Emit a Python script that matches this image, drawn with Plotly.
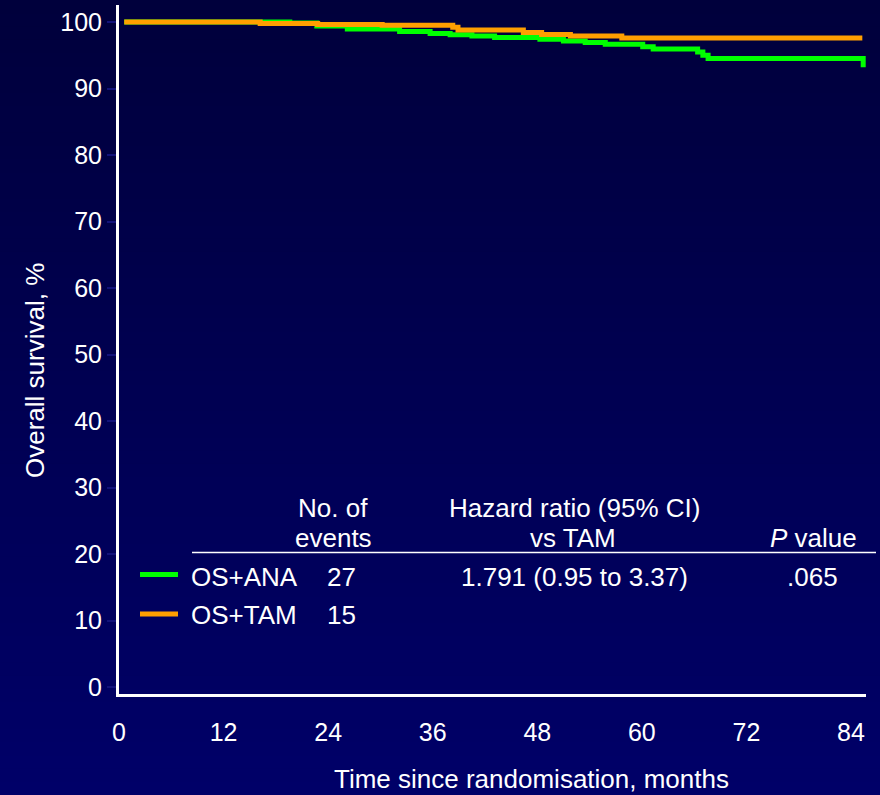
import plotly.graph_objects as go

# ---- data ----
ana_months = [0.6, 19.6, 22.7, 26.2, 32.2, 35.7, 38.0, 40.5, 43.1, 48.3, 51.0, 53.5, 55.8, 60.1, 61.3, 66.4, 67.0, 67.6, 85.4]
ana_surv   = [100.0, 99.85, 99.4, 98.95, 98.57, 98.27, 98.1, 97.9, 97.67, 97.4, 97.14, 96.9, 96.65, 96.27, 95.95, 95.5, 95.0, 94.5, 93.2]
tam_months = [0.6, 16.2, 22.8, 30.2, 38.3, 38.9, 46.4, 48.5, 51.8, 57.7, 85.3]
tam_surv   = [100.0, 99.77, 99.62, 99.5, 99.2, 98.8, 98.42, 98.12, 97.9, 97.6, 97.6]

x_ticks = [0, 12, 24, 36, 48, 60, 72, 84]
y_ticks = [0, 10, 20, 30, 40, 50, 60, 70, 80, 90, 100]

arm_names = ["OS+ANA", "OS+TAM"]
events = ["27", "15"]
hr_text = "1.791 (0.95 to 3.37)"
p_text = ".065"

GREEN = "#00ff00"
ORANGE = "#ff9f00"
FONT = "Arial, Liberation Sans, sans-serif"

W, H = 880, 795
L, R, T, B = 119, 866, 5, 694   # plot area in pixels

def px(x):
    return (x - L) / (R - L)

def py(y):
    return (B - y) / (B - T)

fig = go.Figure()
fig.add_trace(go.Scatter(x=ana_months, y=ana_surv, mode="lines", line=dict(color=GREEN, width=5, shape="hv"),
                         name=arm_names[0], showlegend=False, hoverinfo="skip"))
fig.add_trace(go.Scatter(x=tam_months, y=tam_surv, mode="lines", line=dict(color=ORANGE, width=5, shape="hv"),
                         name=arm_names[1], showlegend=False, hoverinfo="skip"))

shapes = []
# vertical gradient background
n = 60
top_c = (0, 0, 60)
bot_c = (0, 0, 104)
for i in range(n):
    y0 = H * i / n
    y1 = H * (i + 1) / n + 1
    f = i / (n - 1)
    c = tuple(int(round(top_c[k] + (bot_c[k] - top_c[k]) * f)) for k in range(3))
    shapes.append(dict(type="rect", xref="paper", yref="paper", x0=px(-2), x1=px(W + 2),
                       y0=py(y1), y1=py(y0 - (1 if i == 0 else 0)), fillcolor=f"rgb{c}", line=dict(width=0), layer="below"))

# table rule
shapes.append(dict(type="line", xref="paper", yref="paper", x0=px(192), x1=px(876), y0=py(552.5), y1=py(552.5),
                   line=dict(color="white", width=1.5)))
# legend swatches
shapes.append(dict(type="line", xref="paper", yref="paper", x0=px(140), x1=px(178), y0=py(574.5), y1=py(574.5),
                   line=dict(color=GREEN, width=5)))
shapes.append(dict(type="line", xref="paper", yref="paper", x0=px(140), x1=px(178), y0=py(614), y1=py(614),
                   line=dict(color=ORANGE, width=5)))

annots = []
def txt(s, x, y, xanchor="center", size=26):
    annots.append(dict(text=s, xref="paper", yref="paper", x=px(x), y=py(y), xanchor=xanchor, yanchor="middle",
                       showarrow=False, font=dict(color="white", size=size, family=FONT)))

txt("No. of", 333, 507.5)
txt("events", 333, 538)
txt("Hazard ratio (95% CI)", 574, 507.5)
txt("vs TAM", 573, 538)
txt("<i>P</i> value", 813, 538)
txt(arm_names[0], 189, 577, "left")
txt(events[0], 325, 577, "left")
txt(hr_text, 574, 577)
txt(p_text, 812, 577)
txt(arm_names[1], 189, 615, "left")
txt(events[1], 325, 615, "left")

# axis titles
txt("Time since randomisation, months", 531, 779)
annots.append(dict(text="Overall survival, %", xref="paper", yref="paper", x=px(35), y=py(371), textangle=-90,
                   xanchor="center", yanchor="middle", showarrow=False,
                   font=dict(color="white", size=26, family=FONT)))

y_lo = 100 - (B - 22) / 6.65
y_hi = 100 + (22 - T) / 6.65
x_hi = (R - L) / ((851 - 119) / 84)

fig.update_layout(
    width=W, height=H,
    margin=dict(l=L, r=W - R, t=T, b=H - B, pad=0),
    paper_bgcolor="rgb(0,0,80)", plot_bgcolor="rgba(0,0,0,0)",
    shapes=shapes, annotations=annots,
    font=dict(family=FONT, color="white", size=25),
    hovermode=False,
    xaxis=dict(range=[0, x_hi], tickvals=x_ticks, ticktext=[str(v) for v in x_ticks],
               showgrid=False, zeroline=False, showline=True, linecolor="white", linewidth=3,
               ticks="outside", ticklen=14, tickcolor="rgba(0,0,0,0)",
               tickfont=dict(size=25, color="white", family=FONT)),
    yaxis=dict(range=[y_lo, y_hi], tickvals=y_ticks, ticktext=[str(v) for v in y_ticks],
               showgrid=False, zeroline=False, showline=True, linecolor="white", linewidth=3,
               ticks="outside", ticklen=9, tickwidth=2, tickcolor="#12127a",
               tickfont=dict(size=25, color="white", family=FONT)),
)

fig.write_html("out.html", config={"displayModeBar": False},
               post_script="document.body.style.margin='0';document.body.style.padding='0';"
                           "document.body.style.background='rgb(0,0,80)';document.body.style.overflow='hidden';")
